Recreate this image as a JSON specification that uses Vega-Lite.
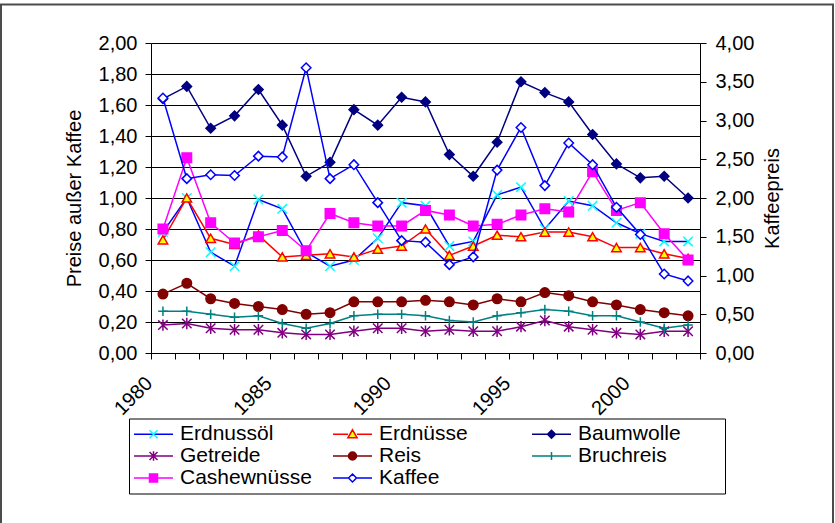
{
  "$schema": "https://vega.github.io/schema/vega-lite/v6.json",
  "width": 549,
  "height": 310,
  "autosize": {"type": "none"},
  "padding": {"left": 151, "top": 43, "right": 135, "bottom": 170},
  "background": "white",
  "config": {
    "font": "Liberation Sans",
    "view": {"stroke": null},
    "axis": {"labelFont": "Liberation Sans", "labelFontSize": 20, "labelColor": "#000", "titleFont": "Liberation Sans", "titleFontSize": 20, "titleFontWeight": "normal", "titleColor": "#000", "domainColor": "#000", "tickColor": "#000", "domainWidth": 1, "tickWidth": 1}
  },
  "data": {"values": [
    {"year":1980,"series":"Erdnussöl","value":0.78},{"year":1981,"series":"Erdnussöl","value":1.00},{"year":1982,"series":"Erdnussöl","value":0.65},{"year":1983,"series":"Erdnussöl","value":0.56},{"year":1984,"series":"Erdnussöl","value":0.99},{"year":1985,"series":"Erdnussöl","value":0.93},{"year":1986,"series":"Erdnussöl","value":0.65},{"year":1987,"series":"Erdnussöl","value":0.56},{"year":1988,"series":"Erdnussöl","value":0.60},{"year":1989,"series":"Erdnussöl","value":0.74},{"year":1990,"series":"Erdnussöl","value":0.97},{"year":1991,"series":"Erdnussöl","value":0.95},{"year":1992,"series":"Erdnussöl","value":0.69},{"year":1993,"series":"Erdnussöl","value":0.72},{"year":1994,"series":"Erdnussöl","value":1.02},{"year":1995,"series":"Erdnussöl","value":1.07},{"year":1996,"series":"Erdnussöl","value":0.80},{"year":1997,"series":"Erdnussöl","value":0.98},{"year":1998,"series":"Erdnussöl","value":0.95},{"year":1999,"series":"Erdnussöl","value":0.84},{"year":2000,"series":"Erdnussöl","value":0.77},{"year":2001,"series":"Erdnussöl","value":0.72},{"year":2002,"series":"Erdnussöl","value":0.72},
    {"year":1980,"series":"Erdnüsse","value":0.73},{"year":1981,"series":"Erdnüsse","value":1.00},{"year":1982,"series":"Erdnüsse","value":0.74},{"year":1983,"series":"Erdnüsse","value":0.70},{"year":1984,"series":"Erdnüsse","value":0.76},{"year":1985,"series":"Erdnüsse","value":0.62},{"year":1986,"series":"Erdnüsse","value":0.63},{"year":1987,"series":"Erdnüsse","value":0.64},{"year":1988,"series":"Erdnüsse","value":0.62},{"year":1989,"series":"Erdnüsse","value":0.67},{"year":1990,"series":"Erdnüsse","value":0.69},{"year":1991,"series":"Erdnüsse","value":0.80},{"year":1992,"series":"Erdnüsse","value":0.63},{"year":1993,"series":"Erdnüsse","value":0.69},{"year":1994,"series":"Erdnüsse","value":0.76},{"year":1995,"series":"Erdnüsse","value":0.75},{"year":1996,"series":"Erdnüsse","value":0.78},{"year":1997,"series":"Erdnüsse","value":0.78},{"year":1998,"series":"Erdnüsse","value":0.75},{"year":1999,"series":"Erdnüsse","value":0.68},{"year":2000,"series":"Erdnüsse","value":0.68},{"year":2001,"series":"Erdnüsse","value":0.64},{"year":2002,"series":"Erdnüsse","value":0.61},
    {"year":1980,"series":"Baumwolle","value":1.64},{"year":1981,"series":"Baumwolle","value":1.72},{"year":1982,"series":"Baumwolle","value":1.45},{"year":1983,"series":"Baumwolle","value":1.53},{"year":1984,"series":"Baumwolle","value":1.70},{"year":1985,"series":"Baumwolle","value":1.47},{"year":1986,"series":"Baumwolle","value":1.14},{"year":1987,"series":"Baumwolle","value":1.23},{"year":1988,"series":"Baumwolle","value":1.57},{"year":1989,"series":"Baumwolle","value":1.47},{"year":1990,"series":"Baumwolle","value":1.65},{"year":1991,"series":"Baumwolle","value":1.62},{"year":1992,"series":"Baumwolle","value":1.28},{"year":1993,"series":"Baumwolle","value":1.14},{"year":1994,"series":"Baumwolle","value":1.36},{"year":1995,"series":"Baumwolle","value":1.75},{"year":1996,"series":"Baumwolle","value":1.68},{"year":1997,"series":"Baumwolle","value":1.62},{"year":1998,"series":"Baumwolle","value":1.41},{"year":1999,"series":"Baumwolle","value":1.22},{"year":2000,"series":"Baumwolle","value":1.13},{"year":2001,"series":"Baumwolle","value":1.14},{"year":2002,"series":"Baumwolle","value":1.00},
    {"year":1980,"series":"Getreide","value":0.18},{"year":1981,"series":"Getreide","value":0.19},{"year":1982,"series":"Getreide","value":0.16},{"year":1983,"series":"Getreide","value":0.15},{"year":1984,"series":"Getreide","value":0.15},{"year":1985,"series":"Getreide","value":0.13},{"year":1986,"series":"Getreide","value":0.12},{"year":1987,"series":"Getreide","value":0.12},{"year":1988,"series":"Getreide","value":0.14},{"year":1989,"series":"Getreide","value":0.16},{"year":1990,"series":"Getreide","value":0.16},{"year":1991,"series":"Getreide","value":0.14},{"year":1992,"series":"Getreide","value":0.15},{"year":1993,"series":"Getreide","value":0.14},{"year":1994,"series":"Getreide","value":0.14},{"year":1995,"series":"Getreide","value":0.17},{"year":1996,"series":"Getreide","value":0.21},{"year":1997,"series":"Getreide","value":0.17},{"year":1998,"series":"Getreide","value":0.15},{"year":1999,"series":"Getreide","value":0.13},{"year":2000,"series":"Getreide","value":0.12},{"year":2001,"series":"Getreide","value":0.14},{"year":2002,"series":"Getreide","value":0.14},
    {"year":1980,"series":"Reis","value":0.38},{"year":1981,"series":"Reis","value":0.45},{"year":1982,"series":"Reis","value":0.35},{"year":1983,"series":"Reis","value":0.32},{"year":1984,"series":"Reis","value":0.30},{"year":1985,"series":"Reis","value":0.28},{"year":1986,"series":"Reis","value":0.25},{"year":1987,"series":"Reis","value":0.26},{"year":1988,"series":"Reis","value":0.33},{"year":1989,"series":"Reis","value":0.33},{"year":1990,"series":"Reis","value":0.33},{"year":1991,"series":"Reis","value":0.34},{"year":1992,"series":"Reis","value":0.33},{"year":1993,"series":"Reis","value":0.31},{"year":1994,"series":"Reis","value":0.35},{"year":1995,"series":"Reis","value":0.33},{"year":1996,"series":"Reis","value":0.39},{"year":1997,"series":"Reis","value":0.37},{"year":1998,"series":"Reis","value":0.33},{"year":1999,"series":"Reis","value":0.31},{"year":2000,"series":"Reis","value":0.28},{"year":2001,"series":"Reis","value":0.26},{"year":2002,"series":"Reis","value":0.24},
    {"year":1980,"series":"Bruchreis","value":0.27},{"year":1981,"series":"Bruchreis","value":0.27},{"year":1982,"series":"Bruchreis","value":0.25},{"year":1983,"series":"Bruchreis","value":0.23},{"year":1984,"series":"Bruchreis","value":0.24},{"year":1985,"series":"Bruchreis","value":0.19},{"year":1986,"series":"Bruchreis","value":0.16},{"year":1987,"series":"Bruchreis","value":0.19},{"year":1988,"series":"Bruchreis","value":0.24},{"year":1989,"series":"Bruchreis","value":0.25},{"year":1990,"series":"Bruchreis","value":0.25},{"year":1991,"series":"Bruchreis","value":0.24},{"year":1992,"series":"Bruchreis","value":0.21},{"year":1993,"series":"Bruchreis","value":0.20},{"year":1994,"series":"Bruchreis","value":0.24},{"year":1995,"series":"Bruchreis","value":0.26},{"year":1996,"series":"Bruchreis","value":0.28},{"year":1997,"series":"Bruchreis","value":0.27},{"year":1998,"series":"Bruchreis","value":0.24},{"year":1999,"series":"Bruchreis","value":0.24},{"year":2000,"series":"Bruchreis","value":0.20},{"year":2001,"series":"Bruchreis","value":0.16},{"year":2002,"series":"Bruchreis","value":0.18},
    {"year":1980,"series":"Cashewnüsse","value":0.80},{"year":1981,"series":"Cashewnüsse","value":1.26},{"year":1982,"series":"Cashewnüsse","value":0.84},{"year":1983,"series":"Cashewnüsse","value":0.71},{"year":1984,"series":"Cashewnüsse","value":0.75},{"year":1985,"series":"Cashewnüsse","value":0.79},{"year":1986,"series":"Cashewnüsse","value":0.66},{"year":1987,"series":"Cashewnüsse","value":0.90},{"year":1988,"series":"Cashewnüsse","value":0.84},{"year":1989,"series":"Cashewnüsse","value":0.82},{"year":1990,"series":"Cashewnüsse","value":0.82},{"year":1991,"series":"Cashewnüsse","value":0.92},{"year":1992,"series":"Cashewnüsse","value":0.89},{"year":1993,"series":"Cashewnüsse","value":0.82},{"year":1994,"series":"Cashewnüsse","value":0.83},{"year":1995,"series":"Cashewnüsse","value":0.89},{"year":1996,"series":"Cashewnüsse","value":0.93},{"year":1997,"series":"Cashewnüsse","value":0.91},{"year":1998,"series":"Cashewnüsse","value":1.17},{"year":1999,"series":"Cashewnüsse","value":0.92},{"year":2000,"series":"Cashewnüsse","value":0.97},{"year":2001,"series":"Cashewnüsse","value":0.77},{"year":2002,"series":"Cashewnüsse","value":0.60},
    {"year":1980,"series":"Kaffee","value":3.29},{"year":1981,"series":"Kaffee","value":2.25},{"year":1982,"series":"Kaffee","value":2.30},{"year":1983,"series":"Kaffee","value":2.29},{"year":1984,"series":"Kaffee","value":2.54},{"year":1985,"series":"Kaffee","value":2.53},{"year":1986,"series":"Kaffee","value":3.68},{"year":1987,"series":"Kaffee","value":2.25},{"year":1988,"series":"Kaffee","value":2.43},{"year":1989,"series":"Kaffee","value":1.94},{"year":1990,"series":"Kaffee","value":1.45},{"year":1991,"series":"Kaffee","value":1.43},{"year":1992,"series":"Kaffee","value":1.14},{"year":1993,"series":"Kaffee","value":1.24},{"year":1994,"series":"Kaffee","value":2.36},{"year":1995,"series":"Kaffee","value":2.91},{"year":1996,"series":"Kaffee","value":2.16},{"year":1997,"series":"Kaffee","value":2.71},{"year":1998,"series":"Kaffee","value":2.43},{"year":1999,"series":"Kaffee","value":1.88},{"year":2000,"series":"Kaffee","value":1.53},{"year":2001,"series":"Kaffee","value":1.02},{"year":2002,"series":"Kaffee","value":0.93}
  ]},
  "layer": [
    {
      "transform": [{"filter": "datum.series !== 'Kaffee'"}],
      "mark": {"type": "line", "strokeWidth": 1.5},
      "encoding": {
        "x": {"field": "year", "type": "quantitative", "scale": {"domain": [1979.5, 2002.5], "nice": false, "zero": false},
          "axis": {"orient": "bottom", "values": [1979.5,1980.5,1981.5,1982.5,1983.5,1984.5,1985.5,1986.5,1987.5,1988.5,1989.5,1990.5,1991.5,1992.5,1993.5,1994.5,1995.5,1996.5,1997.5,1998.5,1999.5,2000.5,2001.5,2002.5], "labels": false, "ticks": true, "tickSize": 6, "grid": false, "title": null, "domain": true}},
        "y": {"field": "value", "type": "quantitative", "scale": {"domain": [0, 2], "nice": false},
          "axis": {"orient": "left", "values": [0,0.2,0.4,0.6,0.8,1,1.2,1.4,1.6,1.8,2], "grid": true, "gridColor": "#000", "gridWidth": 1, "gridOpacity": 1, "tickSize": 6, "labelPadding": 8, "title": "Preise außer Kaffee", "titlePadding": 14, "labelExpr": "replace(format(datum.value, '.2f'), '.', ',')"}},
        "color": {"field": "series", "type": "nominal",
          "scale": {"domain": ["Erdnussöl","Erdnüsse","Baumwolle","Getreide","Reis","Bruchreis","Cashewnüsse"],
                    "range": ["#0000FF","#FF0000","#000080","#800080","#800000","#008080","#FF00FF"]},
          "legend": null}
      }
    },
    {
      "transform": [{"filter": "datum.series !== 'Kaffee'"}],
      "mark": {"type": "point", "size": 90, "strokeWidth": 1.5, "opacity": 1},
      "encoding": {
        "x": {"field": "year", "type": "quantitative", "scale": {"domain": [1979.5, 2002.5], "nice": false, "zero": false},
          "axis": {"orient": "bottom", "values": [1980,1985,1990,1995,2000], "format": "d", "ticks": false, "domain": false, "grid": false, "labelAngle": -45, "labelAlign": "right", "labelBaseline": "middle", "labelPadding": 27, "labelOffset": -14, "title": null}},
        "y": {"field": "value", "type": "quantitative", "scale": {"domain": [0, 2], "nice": false}, "axis": null},
        "shape": {"field": "series", "type": "nominal",
          "scale": {"domain": ["Erdnussöl","Erdnüsse","Baumwolle","Getreide","Reis","Bruchreis","Cashewnüsse"],
                    "range": ["M-1,-1L1,1M-1,1L1,-1","triangle-up","diamond","M-1,-1L1,1M-1,1L1,-1M0,-1.2V1.2","circle","M-1,0H1M0,-1V1","square"]},
          "legend": null},
        "fill": {"field": "series", "type": "nominal",
          "scale": {"domain": ["Erdnussöl","Erdnüsse","Baumwolle","Getreide","Reis","Bruchreis","Cashewnüsse"],
                    "range": ["transparent","#FFFF00","#000080","transparent","#800000","transparent","#FF00FF"]},
          "legend": null},
        "stroke": {"field": "series", "type": "nominal",
          "scale": {"domain": ["Erdnussöl","Erdnüsse","Baumwolle","Getreide","Reis","Bruchreis","Cashewnüsse"],
                    "range": ["#00FFFF","#FF0000","#000080","#800080","#800000","#008080","#FF00FF"]},
          "legend": null}
      }
    },
    {
      "transform": [{"filter": "datum.series === 'Kaffee'"}],
      "mark": {"type": "line", "strokeWidth": 1.5, "color": "#0000FF"},
      "encoding": {
        "x": {"field": "year", "type": "quantitative", "scale": {"domain": [1979.5, 2002.5], "nice": false, "zero": false}, "axis": null},
        "y": {"field": "value", "type": "quantitative", "scale": {"domain": [0, 4], "nice": false},
          "axis": {"orient": "right", "values": [0,0.5,1,1.5,2,2.5,3,3.5,4], "grid": false, "tickSize": 6, "labelPadding": 9, "title": "Kaffeepreis", "titleAngle": 270, "titleBaseline": "top", "titlePadding": 9, "labelExpr": "replace(format(datum.value, '.2f'), '.', ',')"}}
      }
    },
    {
      "transform": [{"filter": "datum.series === 'Kaffee'"}],
      "mark": {"type": "point", "shape": "diamond", "size": 90, "filled": true, "fill": "white", "stroke": "#0000FF", "strokeWidth": 1.5, "opacity": 1},
      "encoding": {
        "x": {"field": "year", "type": "quantitative", "scale": {"domain": [1979.5, 2002.5], "nice": false, "zero": false}, "axis": null},
        "y": {"field": "value", "type": "quantitative", "scale": {"domain": [0, 4], "nice": false}, "axis": null}
      }
    },
    {
      "transform": [{"filter": "false"}],
      "mark": {"type": "point", "size": 64, "strokeWidth": 1.5, "opacity": 1},
      "encoding": {
        "shape": {"field": "series", "type": "nominal",
          "scale": {"domain": ["Erdnussöl","Erdnüsse","Baumwolle","Getreide","Reis","Bruchreis","Cashewnüsse","Kaffee"],
                    "range": ["M-4.875,0H4.875","M-4.875,0H-1.1M1.1,0H4.875M0,-1.1L1.15,0.9L-1.15,0.9Z","M-4.875,0H4.875M0,-1L1,0L0,1L-1,0Z","M-4.875,0H4.875M-1,-1L1,1M-1,1L1,-1M0,-1.2V1.2","M-4.875,0H4.875M1,0A1,1,0,1,1,-1,0A1,1,0,1,1,1,0Z","M-4.875,0H4.875M0,-1V1","M-4.875,0H4.875M-1,-1H1V1H-1Z","M-4.875,0H-1M1,0H4.875M0,-1L1,0L0,1L-1,0Z"]},
          "legend": {"orient": "none", "legendX": -22, "legendY": 375.5, "columns": 3, "direction": "horizontal", "title": " ", "titleOrient": "right", "titlePadding": 39, "titleFontSize": 11, "symbolSize": 64, "symbolOffset": 9, "labelOffset": 16, "symbolStrokeWidth": 1.5, "labelFont": "Liberation Sans", "labelFontSize": 21, "labelColor": "#000", "columnPadding": 18, "rowPadding": 0, "gridAlign": "all", "padding": 5, "strokeColor": "#000", "fillColor": "#fff", "labelLimit": 300}},
        "fill": {"field": "series", "type": "nominal",
          "scale": {"domain": ["Erdnussöl","Erdnüsse","Baumwolle","Getreide","Reis","Bruchreis","Cashewnüsse","Kaffee"],
                    "range": ["transparent","#FFFF00","#000080","transparent","#800000","transparent","#FF00FF","#FFFFFF"]},
          "legend": {"orient": "none", "legendX": -22, "legendY": 375.5, "columns": 3, "direction": "horizontal", "title": " ", "titleOrient": "right", "titlePadding": 39, "titleFontSize": 11, "symbolSize": 64, "symbolOffset": 9, "labelOffset": 16, "symbolStrokeWidth": 1.5, "labelFont": "Liberation Sans", "labelFontSize": 21, "labelColor": "#000", "columnPadding": 18, "rowPadding": 0, "gridAlign": "all", "padding": 5, "strokeColor": "#000", "fillColor": "#fff", "labelLimit": 300}},
        "stroke": {"field": "series", "type": "nominal",
          "scale": {"domain": ["Erdnussöl","Erdnüsse","Baumwolle","Getreide","Reis","Bruchreis","Cashewnüsse","Kaffee"],
                    "range": ["#0000FF","#FF0000","#000080","#800080","#800000","#008080","#FF00FF","#0000FF"]},
          "legend": {"orient": "none", "legendX": -22, "legendY": 375.5, "columns": 3, "direction": "horizontal", "title": " ", "titleOrient": "right", "titlePadding": 39, "titleFontSize": 11, "symbolSize": 64, "symbolOffset": 9, "labelOffset": 16, "symbolStrokeWidth": 1.5, "labelFont": "Liberation Sans", "labelFontSize": 21, "labelColor": "#000", "columnPadding": 18, "rowPadding": 0, "gridAlign": "all", "padding": 5, "strokeColor": "#000", "fillColor": "#fff", "labelLimit": 300}}
      }
    },
    {
      "transform": [{"filter": "false"}],
      "mark": {"type": "point", "size": 64, "strokeWidth": 1.5, "opacity": 1},
      "encoding": {
        "shape": {"field": "series", "type": "nominal",
          "scale": {"domain": ["Erdnussöl","Erdnüsse","Baumwolle","Getreide","Reis","Bruchreis","Cashewnüsse","Kaffee"],
                    "range": ["M-1,-1L1,1M-1,1L1,-1","M-1,-1L1,1M-1,1L1,-1","M-1,-1L1,1M-1,1L1,-1","M-1,-1L1,1M-1,1L1,-1","M-1,-1L1,1M-1,1L1,-1","M-1,-1L1,1M-1,1L1,-1","M-1,-1L1,1M-1,1L1,-1","M-1,-1L1,1M-1,1L1,-1"]},
          "legend": {"orient": "none", "legendX": -22, "legendY": 375.5, "columns": 3, "direction": "horizontal", "title": null, "symbolSize": 64, "symbolOffset": 9, "labelOffset": 16, "symbolStrokeWidth": 1.5, "labelFont": "Liberation Sans", "labelFontSize": 21, "labelExpr": "''", "columnPadding": 18, "rowPadding": 0, "gridAlign": "all", "padding": 5, "labelLimit": 300}},
        "stroke": {"field": "series", "type": "nominal",
          "scale": {"domain": ["Erdnussöl","Erdnüsse","Baumwolle","Getreide","Reis","Bruchreis","Cashewnüsse","Kaffee"],
                    "range": ["#00FFFF","transparent","transparent","transparent","transparent","transparent","transparent","transparent"]},
          "legend": {"orient": "none", "legendX": -22, "legendY": 375.5, "columns": 3, "direction": "horizontal", "title": null, "symbolSize": 64, "symbolOffset": 9, "labelOffset": 16, "symbolStrokeWidth": 1.5, "labelFont": "Liberation Sans", "labelFontSize": 21, "labelExpr": "''", "columnPadding": 18, "rowPadding": 0, "gridAlign": "all", "padding": 5, "labelLimit": 300}}
      }
    },
    {
      "transform": [{"filter": "false"}],
      "mark": {"type": "point"},
      "encoding": {
        "fill": {"field": "value", "type": "quantitative",
          "scale": {"domain": [0, 1], "range": ["rgba(0,0,0,0)", "rgba(0,0,0,0)"]},
          "legend": {"type": "gradient", "orient": "none", "legendX": -150, "legendY": -38.5, "direction": "vertical", "gradientLength": 540, "gradientThickness": 832, "gradientStrokeColor": "#000", "gradientStrokeWidth": 2, "title": null, "labelExpr": "''", "padding": 0}}
      }
    }
  ],
  "resolve": {
    "scale": {"y": "independent", "shape": "independent", "fill": "independent", "stroke": "independent"},
    "axis": {"x": "independent", "y": "independent"}
  }
}
